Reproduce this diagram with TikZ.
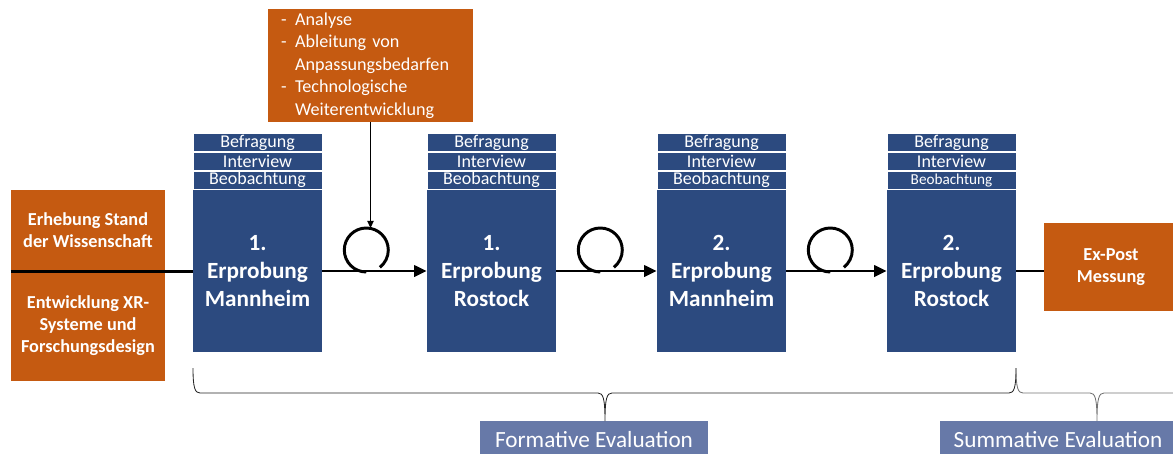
\documentclass[tikz,border=0pt]{standalone}
\usepackage{fontspec}
\setmainfont{Carlito}
\usetikzlibrary{positioning,calc,arrows.meta}
\definecolor{rust}{RGB}{197,90,17}
\definecolor{navy}{RGB}{44,74,127}
\definecolor{slate}{RGB}{103,121,168}
\tikzset{
  orangebox/.style={fill=rust,text=white,font=\fontsize{13}{15.6}\selectfont\bfseries,align=center,inner sep=0pt},
  stagebox/.style={fill=navy,text=white,font=\fontsize{16.5}{20}\selectfont\bfseries,align=center,minimum width=3.225cm,minimum height=4.05cm,inner sep=0pt},
  methodbox/.style={fill=navy,draw=white,line width=0.6pt,text=white,minimum width=3.225cm,minimum height=0.45cm,inner sep=0pt},
  evalbox/.style={fill=slate,text=white,font=\fontsize{16.5}{19}\selectfont,minimum height=0.95cm,inner sep=0pt},
  flowline/.style={line width=2.1pt,-{Triangle[length=9pt,width=8pt]}},
  loopline/.style={line width=2.1pt},
  bracepath/.style={line width=0.6pt},
}
\begin{document}
\begin{tikzpicture}[x=0.025cm,y=-0.025cm]
\useasboundingbox (0,0) rectangle (1173,454);
\clip (0,0) rectangle (1173,454);

% Ausgangslage links
\node[orangebox,minimum width=3.85cm,minimum height=2.025cm] (state) at (88,230.5) {Erhebung Stand\\der Wissenschaft};
\node[orangebox,minimum width=3.85cm,minimum height=2.75cm] (dev) at (88,326) {Entwicklung XR-\\Systeme und\\Forschungsdesign};

% Erprobungen
\foreach \n/\x/\num/\place/\bsize in {1/257.5/1./Mannheim/12.8, 2/491.5/1./Rostock/12.8, 3/721.5/2./Mannheim/12.8, 4/951.5/2./Rostock/10.8}{
  \node[stagebox] (s\n) at (\x,271) {\num\\Erprobung\\\place};
  \node[methodbox,above=0pt of s\n,font=\fontsize{\bsize}{\bsize}\selectfont] (o\n) {Beobachtung};
  \node[methodbox,above=0pt of o\n,font=\fontsize{12.8}{12.8}\selectfont] (i\n) {Interview};
  \node[methodbox,above=0pt of i\n,font=\fontsize{12.8}{12.8}\selectfont] (b\n) {Befragung};
}

% Rueckkopplung
\node[orangebox,font=\fontsize{12.9}{16}\selectfont,minimum height=2.825cm,inner xsep=0.33cm,text width=4.465cm,align=left] (topbox) at (370.5,65.5)
  {\begin{tabular}{@{}p{0.35cm}@{}l@{}}
   - & Analyse\\
   - & Ableitung von\\
     & Anpassungsbedarfen\\
   - & Technologische\\
     & Weiterentwicklung
   \end{tabular}};

\node[orangebox,minimum width=3.35cm,minimum height=2.2cm] (expost) at (1111,267) {Ex-Post\\Messung};

% Verbindungen
\draw[loopline] (state.south west) -- (state.south west -| s1.west);
\foreach \a/\b in {1/2,2/3,3/4}{
  \coordinate (l\a) at ($(s\a.east)+(44,-21)$);
  \coordinate (l\a top) at ($(l\a)+(0,-22)$);
  \draw[flowline] (s\a.east) -- (s\b.west);
  \draw[loopline] (l\a) ++(-90:0.55cm) arc[start angle=-90,end angle=-412,radius=0.55cm];
}
\draw[line width=0.7pt,-{Triangle[length=5pt,width=4.5pt]}] (topbox.south) -- (topbox.south |- l1top);
\draw[loopline] (s4.east) -- (s4.east -| expost.west);

% Evaluation
\node[evalbox,minimum width=5.7cm] (formative) at (594,440) {Formative Evaluation};
\node[evalbox,minimum width=5.9cm] (summative) at (1058,440) {Summative Evaluation};
\draw[bracepath,black!85] (193,368) .. controls (193,388) and (195,393) .. (200,393) -- (598,393)
  .. controls (603,393) and (605,398) .. (605,421) .. controls (605,398) and (607,393) .. (612,393)
  -- (1009,393) .. controls (1014,393) and (1016,388) .. (1016,368);
\draw[bracepath,black!55] (1016,368) .. controls (1016,388) and (1018,393) .. (1023,393) -- (1090,393)
  .. controls (1095,393) and (1097,398) .. (1097,421) .. controls (1097,398) and (1099,393) .. (1104,393)
  -- (1185,393);
\end{tikzpicture}
\end{document}
